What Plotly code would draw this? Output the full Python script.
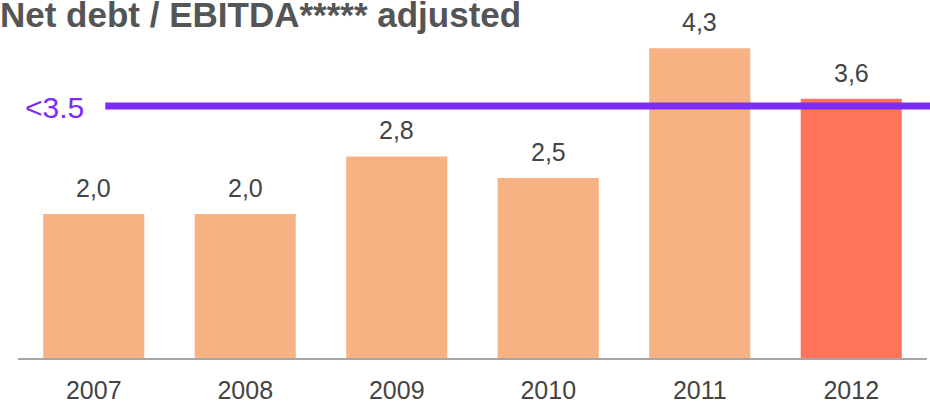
import plotly.graph_objects as go

# Données
years = ["2007", "2008", "2009", "2010", "2011", "2012"]
ratios = [2.0, 2.0, 2.8, 2.5, 4.3, 3.6]
labels = ["2,0", "2,0", "2,8", "2,5", "4,3", "3,6"]
bar_colors = ["#F7B283", "#F7B283", "#F7B283", "#F7B283", "#F7B283", "#FF735A"]
target = 3.5
target_label = "<3.5"

FONT = "Liberation Sans, Arial, sans-serif"

fig = go.Figure()

# Barres
fig.add_trace(
    go.Bar(
        x=years,
        y=ratios,
        marker_color=bar_colors,
        marker_line_width=0,
        showlegend=False,
        hoverinfo="skip",
    )
)

# Étiquettes de valeurs (position = index de catégorie)
for i, (val, lab) in enumerate(zip(ratios, labels)):
    fig.add_annotation(
        x=i, y=val, text=lab, showarrow=False,
        yanchor="bottom", yshift=10,
        font=dict(family=FONT, size=25, color="#444444"),
    )

# Ligne cible
fig.add_shape(
    type="line", xref="paper", yref="y",
    x0=0.096, x1=1.01, y0=target, y1=target,
    line=dict(color="#7B2BFA", width=7),
)
fig.add_annotation(
    xref="paper", yref="y", x=0.005, y=target, text=target_label,
    showarrow=False, xanchor="left", yanchor="middle", yshift=-2,
    font=dict(family=FONT, size=30, color="#7B2BFA"),
)

# Mise en forme
fig.update_layout(
    width=930, height=404,
    margin=dict(l=18, r=3, t=20, b=46),
    plot_bgcolor="white", paper_bgcolor="white",
    bargap=0.333,
    title=dict(
        text="<b>Net debt / EBITDA***** adjusted</b>",
        x=0, xref="container", xanchor="left",
        y=0.993, yref="container", yanchor="top",
        font=dict(family=FONT, size=35, color="#555555"),
        pad=dict(l=0, t=0),
    ),
)
fig.update_xaxes(
    type="category", range=[-0.5, 5.5], automargin=False,
    showline=True, linecolor="#A6A6A6", linewidth=2,
    ticks="", showgrid=False, ticklabelstandoff=9,
    tickfont=dict(family=FONT, size=25, color="#444444"),
)
fig.update_yaxes(
    range=[0, 4.694], visible=False, showgrid=False, zeroline=False,
)

# marge du body à zéro pour que la figure colle au bord de la fenêtre
fig.write_html(
    "out.html",
    config={"displayModeBar": False},
    post_script="document.body.style.margin='0';",
)
